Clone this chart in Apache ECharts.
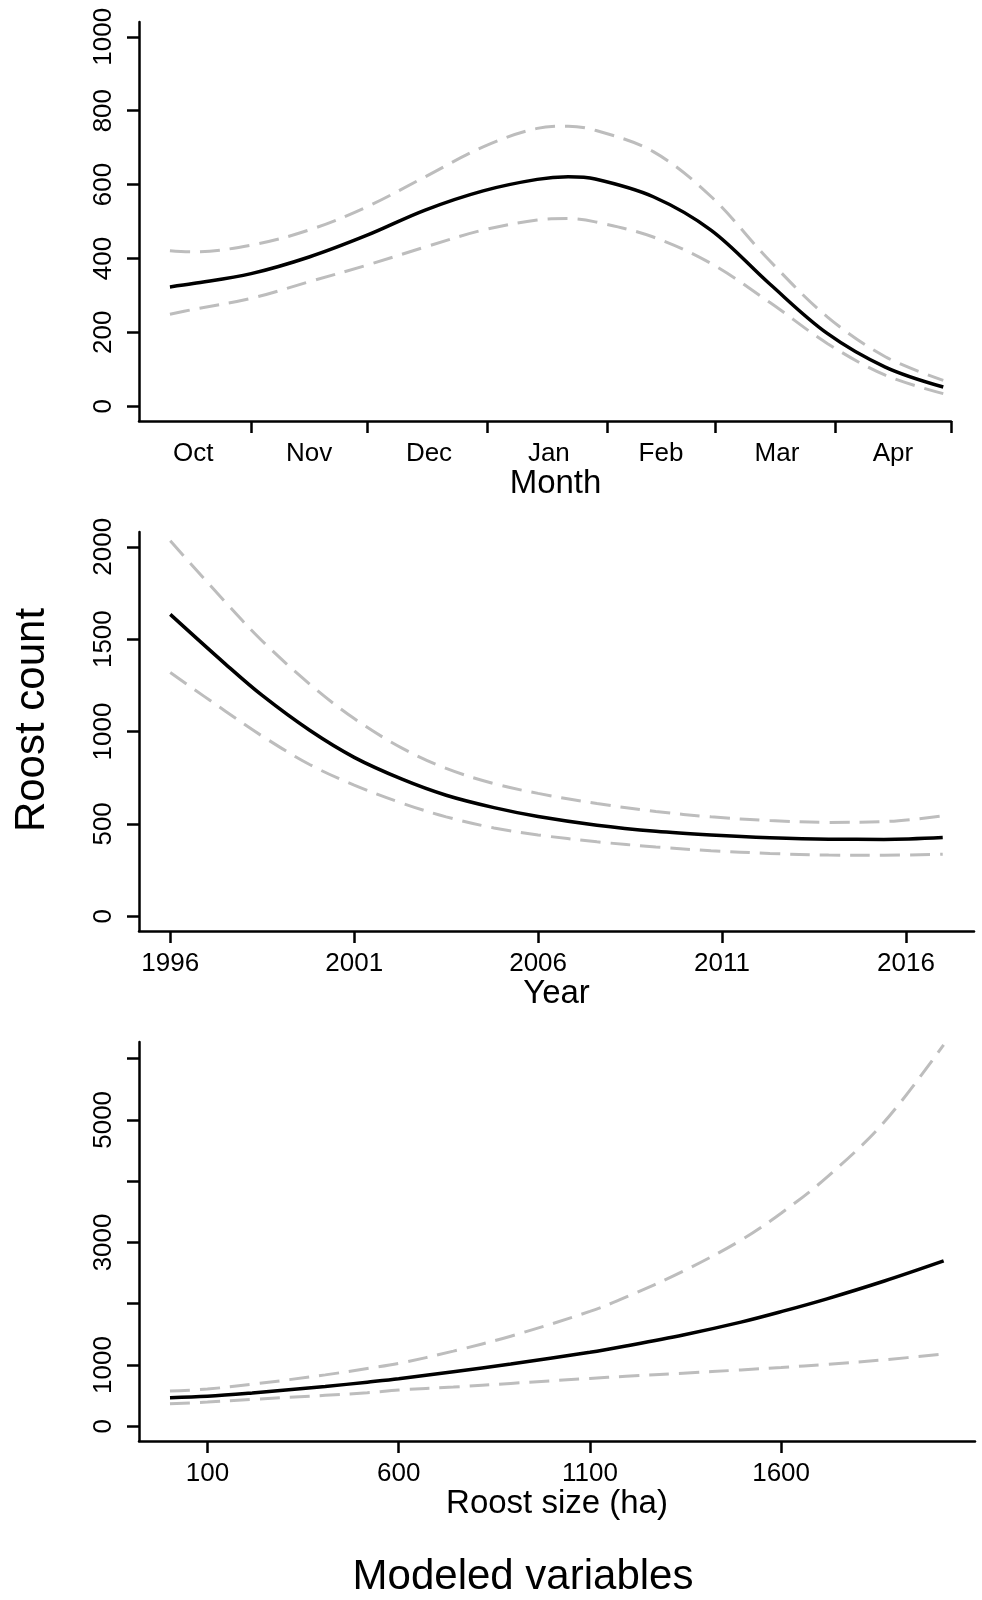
<!DOCTYPE html>
<html>
<head>
<meta charset="utf-8">
<script src="https://cdn.jsdelivr.net/npm/echarts@6/dist/echarts.min.js"></script>
<style>
html,body{margin:0;padding:0;background:#fff;}
#chart{width:982px;height:1600px;}
</style>
</head>
<body>
<div id="chart"></div>
<script>
// ---------- Panel 1: Month (days since Oct 1) ----------
const monthDays  = [10, 16, 31, 46, 61, 76, 91, 105, 113, 120, 135, 150, 165, 180, 195, 210];
const monthFit   = [323, 332, 359, 404, 463, 531, 583, 614, 621, 615, 567, 476, 332, 197, 106, 52];
const monthUpper = [421, 418, 436, 477, 540, 621, 702, 752, 758, 747, 689, 567, 395, 242, 134, 70];
const monthLower = [249, 262, 292, 337, 382, 431, 477, 504, 508, 499, 458, 386, 282, 170, 84, 34];
const monthTickPos   = [31, 61, 92, 123, 151, 182, 212];
const monthLabelPos  = [16, 46, 77, 108, 137, 167, 197];
const monthLabels    = ['Oct', 'Nov', 'Dec', 'Jan', 'Feb', 'Mar', 'Apr'];
const monthYTicks    = [0, 200, 400, 600, 800, 1000];

// ---------- Panel 2: Year ----------
const years     = [1996, 1997.5, 1998.5, 1999.8, 2001, 2002.3, 2003.5, 2004.8, 2006, 2007.6, 2009.2, 2010.7, 2012.3, 2013.9, 2015.4, 2017];
const yearFit   = [1634, 1365, 1195, 1005, 860, 742, 655, 588, 540, 493, 460, 440, 425, 417, 416, 426];
const yearUpper = [2032, 1700, 1490, 1255, 1070, 910, 800, 718, 665, 610, 567, 538, 518, 508, 512, 543];
const yearLower = [1319, 1110, 975, 820, 710, 612, 538, 478, 440, 403, 375, 355, 340, 331, 330, 336];
const yearXTicks = [1996, 2001, 2006, 2011, 2016];
const yearYTicks = [0, 500, 1000, 1500, 2000];

// ---------- Panel 3: Roost size (ha) ----------
const sizes     = [2, 100, 217, 408, 518, 600, 743, 893, 1100, 1194, 1344, 1495, 1600, 1720, 1870, 2025];
const sizeFit   = [467, 490, 545, 650, 720, 775, 890, 1015, 1207, 1310, 1490, 1700, 1870, 2080, 2370, 2698];
const sizeUpper = [574, 608, 686, 839, 943, 1025, 1226, 1470, 1874, 2107, 2531, 3036, 3476, 4065, 4967, 6225];
const sizeLower = [367, 396, 440, 505, 548, 592, 640, 700, 781, 815, 865, 920, 959, 1010, 1085, 1178];
const sizeXTicks = [100, 600, 1100, 1600];
const sizeYTicks = [0, 1000, 2000, 3000, 4000, 5000, 6000];
const sizeYLabels = [0, 1000, 3000, 5000];

const FONT = 'Liberation Sans, Arial, sans-serif';
const GREY = '#bdbdbd';

function pairs(xs, ys) { return xs.map((x, i) => [x, ys[i]]); }

function xAxisCfg(idx, min, max, tickVals, labelVals, name, fmt, namePad) {
  return {
    type: 'value', gridIndex: idx, min: min, max: max, position: 'bottom',
    name: name, nameLocation: 'middle', nameGap: 46,
    nameTextStyle: { fontFamily: FONT, fontSize: 33, color: '#000', padding: namePad || 0 },
    axisLine: { show: true, onZero: false, lineStyle: { color: '#000', width: 2.5 } },
    axisTick: { show: true, length: 12, inside: false, customValues: tickVals, lineStyle: { color: '#000', width: 2.5 } },
    axisLabel: { show: true, margin: 20, customValues: labelVals, fontFamily: FONT, fontSize: 26, color: '#000', formatter: fmt },
    splitLine: { show: false }
  };
}
function yAxisCfg(idx, min, max, tickVals, labelVals) {
  return {
    type: 'value', gridIndex: idx, min: min, max: max, position: 'left',
    axisLine: { show: true, onZero: false, lineStyle: { color: '#000', width: 2.5 } },
    axisTick: { show: true, length: 12, inside: false, customValues: tickVals, lineStyle: { color: '#000', width: 2.5 } },
    axisLabel: { show: true, rotate: 90, margin: 22, customValues: labelVals, fontFamily: FONT, fontSize: 26, color: '#000', formatter: v => String(v) },
    splitLine: { show: false }
  };
}
function lineSeries(idx, data, dashed) {
  return {
    type: 'line', xAxisIndex: idx, yAxisIndex: idx, data: data,
    smooth: 0.35, showSymbol: false, symbol: 'none', silent: true, animation: false,
    lineStyle: dashed ? { color: GREY, width: 3, type: [20, 10], cap: 'butt' } : { color: '#000', width: 3.5 },
    z: dashed ? 2 : 3
  };
}

const chart = echarts.init(document.getElementById('chart'), null, { renderer: 'canvas' });
chart.setOption({
  backgroundColor: '#fff',
  animation: false,
  grid: [
    { left: 139, top: 22, width: 812, height: 399 },
    { left: 139, top: 532, width: 835, height: 399 },
    { left: 139, top: 1042, width: 836, height: 399 }
  ],
  xAxis: [
    xAxisCfg(0, 2, 212, monthTickPos, monthLabelPos, 'Month',
      v => { const i = monthLabelPos.indexOf(Math.round(v)); return i >= 0 ? monthLabels[i] : ''; }, [0, 0, 0, 21]),
    xAxisCfg(1, 1995.15, 2017.85, yearXTicks, yearXTicks, 'Year', v => String(v)),
    xAxisCfg(2, -79, 2107, sizeXTicks, sizeXTicks, 'Roost size (ha)', v => String(v))
  ],
  yAxis: [
    yAxisCfg(0, -40, 1040, monthYTicks, monthYTicks),
    yAxisCfg(1, -80, 2080, yearYTicks, yearYTicks),
    yAxisCfg(2, -240, 6270, sizeYTicks, sizeYLabels)
  ],
  series: [
    lineSeries(0, pairs(monthDays, monthUpper), true),
    lineSeries(0, pairs(monthDays, monthLower), true),
    lineSeries(0, pairs(monthDays, monthFit), false),
    lineSeries(1, pairs(years, yearUpper), true),
    lineSeries(1, pairs(years, yearLower), true),
    lineSeries(1, pairs(years, yearFit), false),
    lineSeries(2, pairs(sizes, sizeUpper), true),
    lineSeries(2, pairs(sizes, sizeLower), true),
    lineSeries(2, pairs(sizes, sizeFit), false)
  ],
  graphic: [
    { type: 'text', x: 32, y: 720, rotation: Math.PI / 2,
      style: { text: 'Roost count', font: '42px ' + FONT, fill: '#000', align: 'center', verticalAlign: 'middle' } },
    { type: 'text', x: 523, y: 1577,
      style: { text: 'Modeled variables', font: '42px ' + FONT, fill: '#000', align: 'center', verticalAlign: 'middle' } }
  ]
});
</script>
</body>
</html>
